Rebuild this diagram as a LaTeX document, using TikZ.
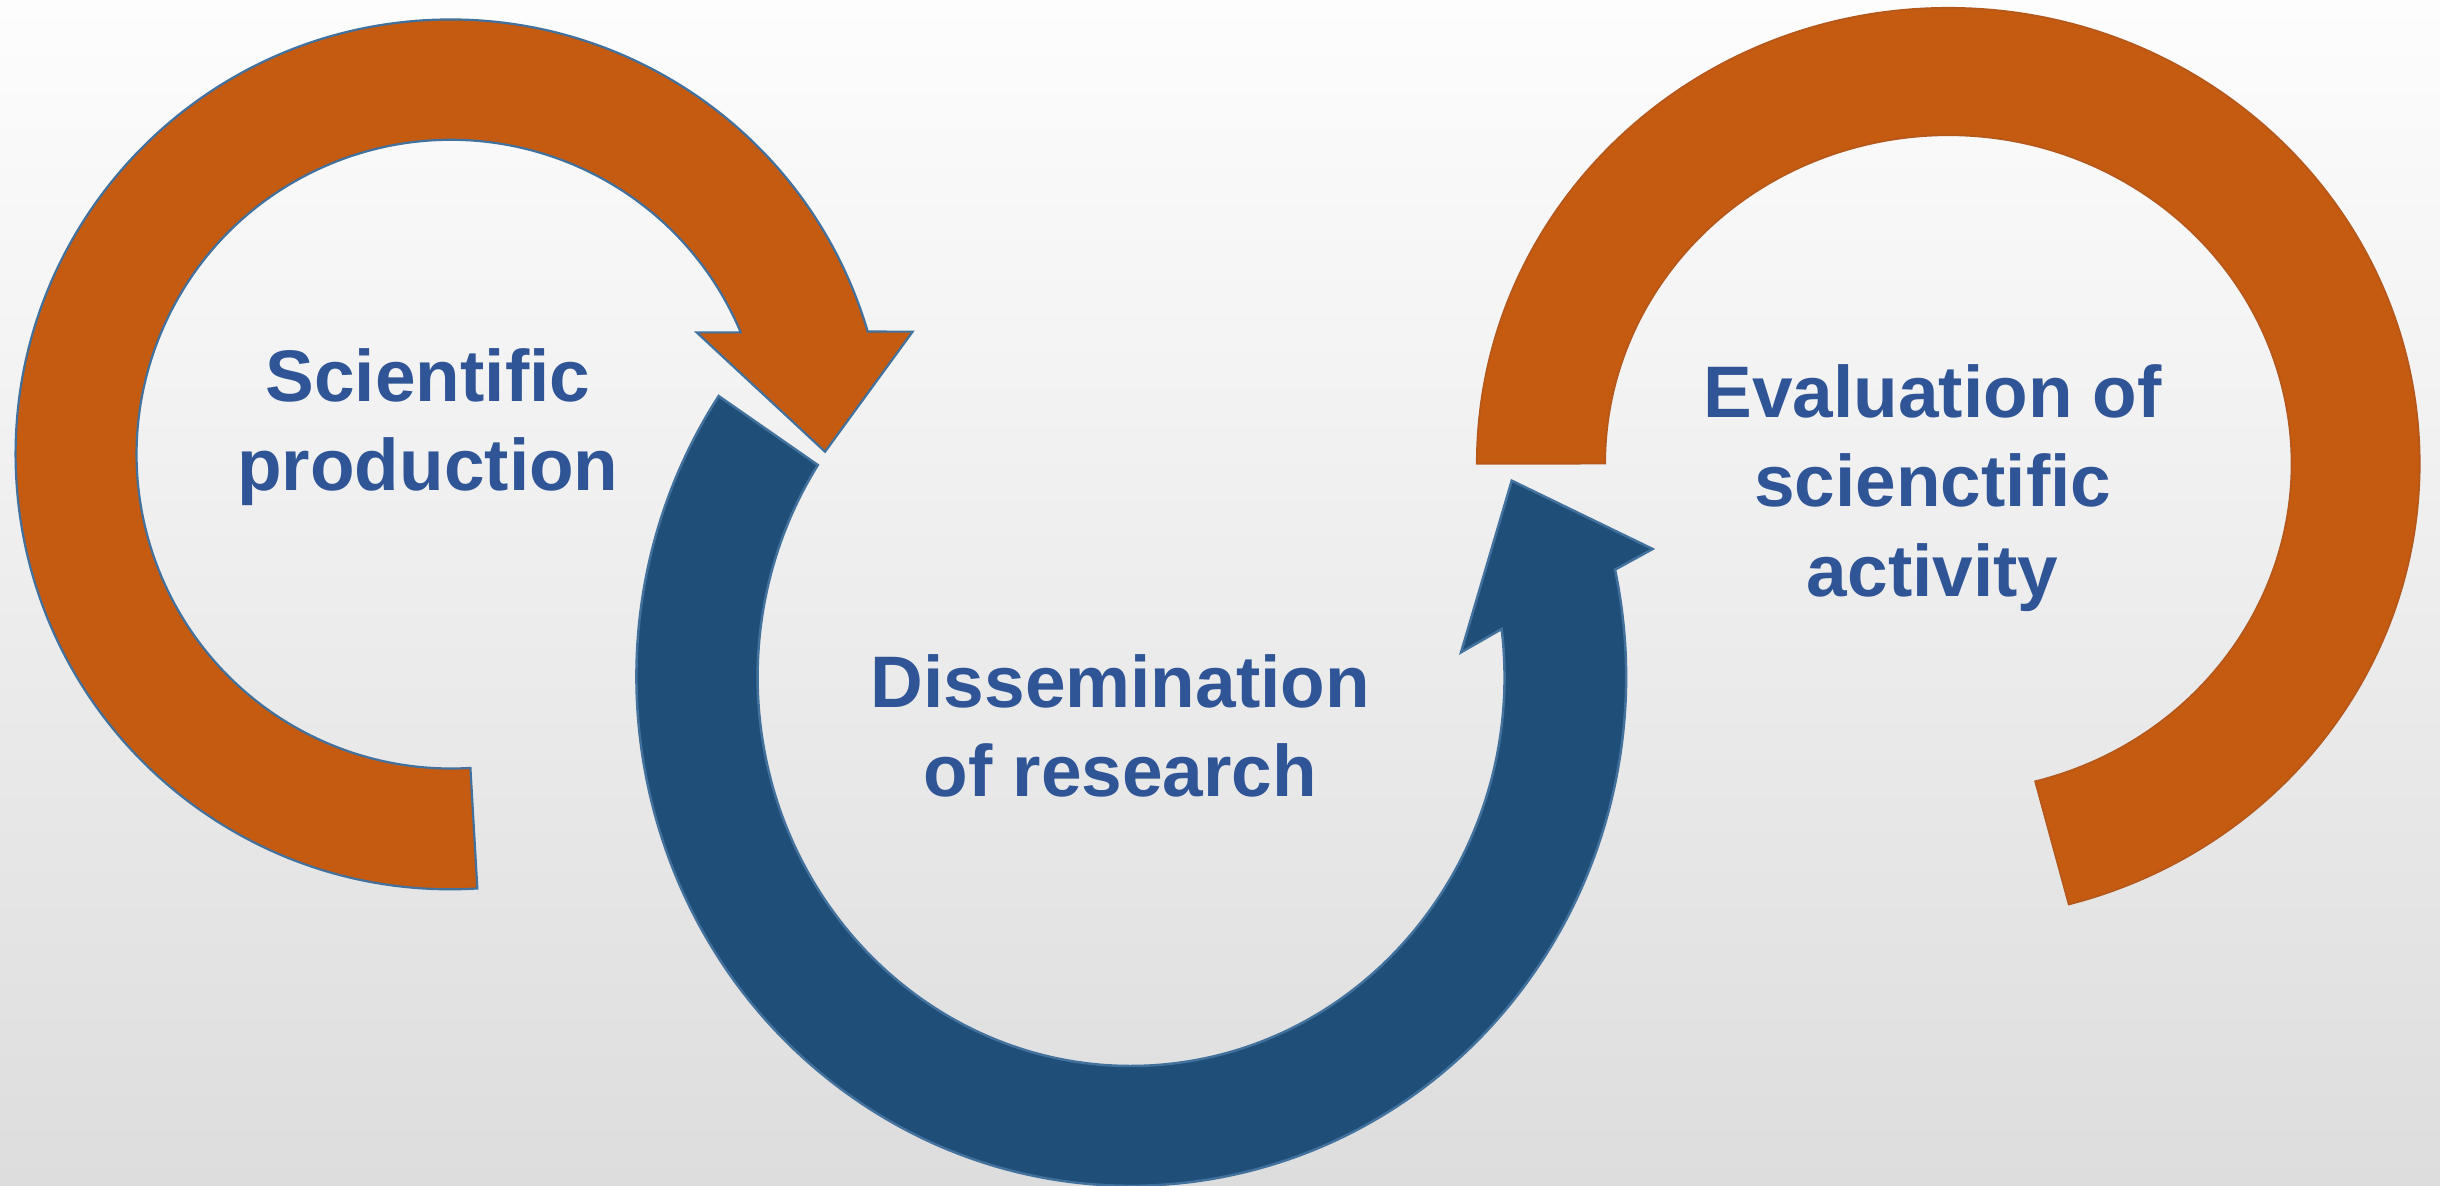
\documentclass[tikz,border=0pt]{standalone}
\usepackage{fontspec}
\setmainfont{Liberation Sans}
\definecolor{orng}{HTML}{C55A11}
\definecolor{navy}{HTML}{1F4E79}
\definecolor{steel}{HTML}{41719C}
\definecolor{txtblue}{HTML}{2F5597}
\definecolor{orngline}{HTML}{B4581C}
\definecolor{bgtop}{HTML}{FDFDFD}
\definecolor{bgmid}{HTML}{F7F7F7}
\definecolor{bgbot}{HTML}{DDDDDD}
\tikzset{
  lbl/.style={text=txtblue, font=\fontsize{13.35pt}{16pt}\selectfont\bfseries, anchor=base, inner sep=0pt},
  ringA/.style={fill=orng, draw=steel, line width=0.4pt, line join=miter},
  ringB/.style={fill=navy, draw=steel, line width=0.45pt, line join=miter},
  ringC/.style={fill=orng, draw=orngline, line width=0.3pt},
}
\begin{document}
\begin{tikzpicture}[x=0.1mm, y=0.1mm]
  \useasboundingbox (0,0) rectangle (1568,-762);
  \shade[top color=bgtop, middle color=bgmid, bottom color=bgbot] (0,0) rectangle (1568,-762);

  % centres
  \coordinate (cA) at (289.5,-292);
  \coordinate (cB) at (727,-435);
  \coordinate (cC) at (1252,-298);

  % left orange arrow
  \coordinate (a1) at (586.5,-213.1);
  \coordinate (a2) at (530.2,-290.3);
  \coordinate (a3) at (447.7,-213.6);
  \coordinate (a4) at (476,-213.6);
  \path[ringA] (cA) ++(-86.46:279.5)
     arc[start angle=-86.46, end angle=-343.6, radius=279.5]
     -- (a1) -- (a2) -- (a3) -- (a4)
     arc[start angle=-337.2, end angle=-86.45, radius=202] -- cycle;

  % blue arrow
  \coordinate (b1) at (1062,-352.8);
  \coordinate (b2) at (971.5,-308.9);
  \coordinate (b3) at (938.9,-419.2);
  \coordinate (b4) at (965,-404.2);
  \path[ringB] (cB) ++(146.5:318 and 327)
     arc[start angle=146.5, end angle=372.17, x radius=318, y radius=327]
     -- (b1) -- (b2) -- (b3) -- (b4)
     arc[start angle=367.08, end angle=147, x radius=240, y radius=250] -- cycle;

  % right orange arc
  \coordinate (c1) at (1307.8,-502.1);
  \path[ringC] (cC) ++(180:303 and 293)
     arc[start angle=180, end angle=-75.2, x radius=303, y radius=293]
     -- (c1)
     arc[start angle=-75.35, end angle=180, x radius=220.5, y radius=211] -- cycle;

  % labels
  \node[lbl] (s1) at (275,-258.3) {Scientific};
  \node[lbl] (s2) at (275,-314.9) {production};
  \node[lbl] (d1) at (720,-454.5) {Dissemination};
  \node[lbl] (d2) at (720,-512.0) {of research};
  \node[lbl] (e1) at (1242,-268.2) {Evaluation of};
  \node[lbl] (e2) at (1242,-325.6) {scienctific};
  \node[lbl] (e3) at (1242,-383.5) {activity};
\end{tikzpicture}
\end{document}
